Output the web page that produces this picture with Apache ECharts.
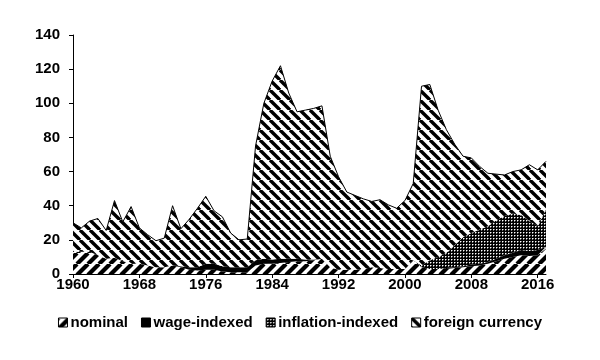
<!DOCTYPE html>
<html>
<head>
<meta charset="utf-8">
<script src="https://cdn.jsdelivr.net/npm/echarts@6/dist/echarts.min.js"></script>
<style>html,body{margin:0;padding:0;background:#fff}#c{width:600px;height:360px}</style>
</head>
<body>
<div id="c"></div>
<script>
const years = ['1960','1961','1962','1963','1964','1965','1966','1967','1968','1969',
'1970','1971','1972','1973','1974','1975','1976','1977','1978','1979',
'1980','1981','1982','1983','1984','1985','1986','1987','1988','1989',
'1990','1991','1992','1993','1994','1995','1996','1997','1998','1999',
'2000','2001','2002','2003','2004','2005','2006','2007','2008','2009',
'2010','2011','2012','2013','2014','2015','2016','2017'];

const nominal = [13,13,13,11,9,9.5,7.5,6.5,6,5,
4,4,5,4,2.5,2,2.5,2.5,1.5,1,
1,1,5,6,6,6.5,7,7.5,7.5,8,
9,4,2.5,2.5,2.5,3,4,3.5,3,3,
3,8,4,3,3,3,3.5,4,4.5,5,
6,7.5,9,10,11,10.5,11,15];

const wageIndexed = [0,0,0,0,0,0,0,0,0,0,
0,0,0,0.5,1.5,2,3.5,3.5,3,3,
3,3,3,3,2.5,2.5,2,1.5,1,0.5,
0,0,0,0,0,0,0,0,0,0,
0,0,0,0,0,0.5,0.5,0.5,1,1,
1,1.5,2,2.5,3,3,3,1];

const inflationIndexed = [0,0,0,0,0,0,0,0,0,0,
0,0,0,0,0,0,0,0,0,0,
0,0,0,0,0,0,0,0,0,0,
0,0,0,0,0,0,0,0,0,0,
0,0,1,5,7,9,13,17,18.5,20,
21,22.5,23,23,20.5,17.5,14,22];

const foreignCurrency = [17,14,18,21.5,16.5,33.5,23,33,21,18,
15.5,17,35,22,28,34.5,39.5,31,29,20,
16,16.5,67,91,104.5,113,97,86,87.5,88.5,
89.5,65,54.5,45.5,43.5,41,38.5,40,37.5,35.5,
40,45,105,103,86,72,59,47.5,44,37,
31,27,24,24.5,26.5,33,33,28];

const seriesNames = ['nominal','wage-indexed','inflation-indexed','foreign currency'];

function stripes(period, width, forward) {
  const c = document.createElement('canvas');
  c.width = period; c.height = period;
  const g = c.getContext('2d');
  g.fillStyle = '#fff'; g.fillRect(0, 0, period, period);
  g.strokeStyle = '#000'; g.lineWidth = width;
  for (let k = -1; k <= 1; k++) {
    g.beginPath();
    if (forward) { g.moveTo(k * period, period); g.lineTo(k * period + period, 0); }
    else { g.moveTo(k * period, 0); g.lineTo(k * period + period, period); }
    g.stroke();
  }
  return {image: c, repeat: 'repeat'};
}
function dots() {
  const c = document.createElement('canvas');
  c.width = 3; c.height = 3;
  const g = c.getContext('2d');
  g.fillStyle = '#000'; g.fillRect(0, 0, 3, 3);
  g.fillStyle = '#fff'; g.fillRect(1, 1, 1, 1);
  g.fillStyle = '#777'; g.fillRect(2, 1, 1, 1); g.fillRect(1, 2, 1, 1);
  return {image: c, repeat: 'repeat'};
}
const fills = [stripes(11, 4.2, true), '#000', dots(), stripes(10, 3.4, false)];
const datasets = [nominal, wageIndexed, inflationIndexed, foreignCurrency];

const font = {fontFamily: 'Liberation Sans, Arial, sans-serif', fontWeight: 'bold', fontSize: 15, color: '#000'};

const chart = echarts.init(document.getElementById('c'), null, {renderer: 'canvas'});
chart.setOption({
  animation: false,
  backgroundColor: '#fff',
  grid: {left: 73, right: 54, top: 35, bottom: 86, containLabel: false},
  legend: {
    top: 310, left: 'center', itemWidth: 9, itemHeight: 9, itemGap: 13,
    icon: 'rect',
    textStyle: Object.assign({}, font, {padding: [0, 0, 0, -2]}),
    itemStyle: {borderColor: '#000', borderWidth: 1},
    data: seriesNames.map((n, i) => ({name: n, icon: 'rect', itemStyle: {color: fills[i], borderColor: '#000', borderWidth: 1}}))
  },
  xAxis: {
    type: 'category', data: years, boundaryGap: false,
    axisLine: {lineStyle: {color: '#000', width: 1}},
    axisTick: {interval: 7, length: 4, lineStyle: {color: '#000'}},
    axisLabel: Object.assign({}, font, {interval: 7, margin: 3})
  },
  yAxis: {
    type: 'value', min: 0, max: 140, interval: 20,
    axisLine: {show: true, lineStyle: {color: '#000', width: 1}},
    axisTick: {show: true, length: 4, lineStyle: {color: '#000'}},
    axisLabel: Object.assign({}, font, {margin: 13}),
    splitLine: {show: false}
  },
  series: seriesNames.map((n, i) => ({
    name: n, type: 'line', stack: 'total', data: datasets[i],
    showSymbol: false, symbol: 'none',
    itemStyle: {color: '#000'},
    lineStyle: {color: '#000', width: i === 3 ? 1 : 0},
    areaStyle: {color: fills[i], opacity: 1},
    emphasis: {disabled: true}
  }))
});
</script>
</body>
</html>
